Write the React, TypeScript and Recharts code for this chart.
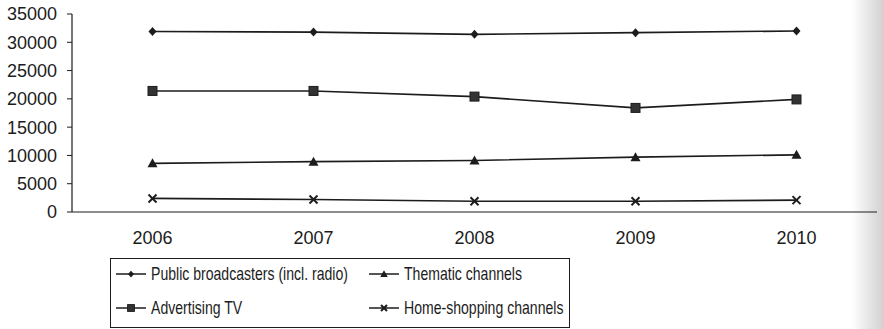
import React from 'react';
import { LineChart, Line, XAxis, YAxis, Legend } from 'recharts';

const years = ['2006', '2007', '2008', '2009', '2010'];
const publicBroadcasters = [31900, 31800, 31400, 31700, 32000];
const advertisingTv = [21400, 21400, 20400, 18400, 19900];
const thematicChannels = [8600, 8900, 9100, 9700, 10100];
const homeShopping = [2400, 2200, 1900, 1900, 2100];
const yTicks = [0, 5000, 10000, 15000, 20000, 25000, 30000, 35000];

type Marker = 'diamond' | 'square' | 'triangle' | 'cross';

const SERIES: { key: string; name: string; marker: Marker }[] = [
  { key: 'pub', name: 'Public broadcasters (incl. radio)', marker: 'diamond' },
  { key: 'adv', name: 'Advertising TV', marker: 'square' },
  { key: 'them', name: 'Thematic channels', marker: 'triangle' },
  { key: 'home', name: 'Home-shopping channels', marker: 'cross' },
];

const data = years.map((year, i) => ({
  x: i + 1,
  year,
  pub: publicBroadcasters[i],
  adv: advertisingTv[i],
  them: thematicChannels[i],
  home: homeShopping[i],
}));

const INK = '#1c1c1c';
const AXIS_FONT = '"Liberation Sans", Arial, sans-serif';

const MarkerShape = ({ kind, cx, cy, s = 1 }: { kind: Marker; cx: number; cy: number; s?: number }) => {
  switch (kind) {
    case 'diamond':
      return <polygon points={`${cx},${cy - 4.5 * s} ${cx + 4 * s},${cy} ${cx},${cy + 4.5 * s} ${cx - 4 * s},${cy}`} fill={INK} />;
    case 'square':
      return <rect x={cx - 4.5 * s} y={cy - 4.5 * s} width={9 * s} height={9 * s} fill="#333" stroke={INK} strokeWidth={1} />;
    case 'triangle':
      return <polygon points={`${cx},${cy - 5 * s} ${cx + 5 * s},${cy + 4 * s} ${cx - 5 * s},${cy + 4 * s}`} fill={INK} />;
    default:
      return (
        <g stroke={INK} strokeWidth={2}>
          <line x1={cx - 4 * s} y1={cy - 4 * s} x2={cx + 4 * s} y2={cy + 4 * s} />
          <line x1={cx - 4 * s} y1={cy + 4 * s} x2={cx + 4 * s} y2={cy - 4 * s} />
        </g>
      );
  }
};

const dotFor = (kind: Marker) => (props: any) => {
  const { cx, cy, index } = props;
  if (cx == null || cy == null) return <g key={index} />;
  return <MarkerShape key={index} kind={kind} cx={cx} cy={cy} />;
};

// legend entry positions inside the box: [icon left, row centre]
const ENTRY_POS = [
  [5, 15],
  [5, 49],
  [258, 15],
  [258, 49],
];

const LegendBox = () => (
  <div
    style={{
      position: 'relative',
      border: `1px solid ${INK}`,
      boxSizing: 'border-box',
      width: 460,
      height: 70,
      fontFamily: AXIS_FONT,
      fontSize: 18.5,
      color: INK,
    }}
  >
    {SERIES.map((s, i) => (
      <div
        key={s.key}
        style={{
          position: 'absolute',
          left: ENTRY_POS[i][0],
          top: ENTRY_POS[i][1] - 11,
          height: 22,
          display: 'flex',
          alignItems: 'center',
          whiteSpace: 'nowrap',
        }}
      >
        <svg width={30} height={12} style={{ flexShrink: 0, marginRight: 5 }}>
          <line x1={0} y1={6} x2={30} y2={6} stroke={INK} strokeWidth={1.5} />
          <MarkerShape kind={s.marker} cx={15} cy={6} s={0.75} />
        </svg>
        <span style={{ display: 'inline-block', transform: 'scaleX(0.76)', transformOrigin: 'left center' }}>{s.name}</span>
      </div>
    ))}
  </div>
);

export default function App() {
  return (
    <div
      style={{
        position: 'absolute',
        left: 0,
        top: 0,
        width: 883,
        height: 329,
        background: 'linear-gradient(to right, #ffffff 0, #ffffff 852px, #e4e4e4 870px, #d2d2d2 883px)',
      }}
    >
      <LineChart width={883} height={329} data={data} margin={{ top: 14, right: 6, left: 0, bottom: 91 }}>
        <XAxis
          xAxisId="a"
          dataKey="x"
          type="number"
          domain={[0.5, 5.5]}
          ticks={[0.5, 1.5, 2.5, 3.5, 4.5, 5.5]}
          tick={false}
          tickSize={6}
          height={6}
          stroke={INK}
          axisLine={{ stroke: INK, strokeWidth: 1.2 }}
        />
        <XAxis
          xAxisId="b"
          dataKey="x"
          type="number"
          domain={[0.5, 5.5]}
          ticks={[1, 2, 3, 4, 5]}
          tickFormatter={(v: number) => years[v - 1]}
          axisLine={false}
          tickLine={false}
          height={20}
          tickSize={0}
          tickMargin={13}
          tick={{ fill: INK, fontSize: 18, fontFamily: AXIS_FONT }}
        />
        <YAxis
          domain={[0, 35000]}
          ticks={yTicks}
          width={72}
          tickSize={5}
          tickMargin={10}
          interval={0}
          stroke={INK}
          axisLine={{ stroke: INK, strokeWidth: 1.2 }}
          tick={{ fill: INK, fontSize: 18, fontFamily: AXIS_FONT }}
        />
        {SERIES.map((s) => (
          <Line
            key={s.key}
            xAxisId="a"
            type="linear"
            dataKey={s.key}
            name={s.name}
            stroke={INK}
            strokeWidth={1.6}
            dot={dotFor(s.marker)}
            activeDot={false}
            isAnimationActive={false}
          />
        ))}
        <Legend
          layout="horizontal"
          verticalAlign="middle"
          align="center"
          wrapperStyle={{ left: 110, top: 258, width: 460 }}
          content={() => <LegendBox />}
        />
      </LineChart>
    </div>
  );
}
